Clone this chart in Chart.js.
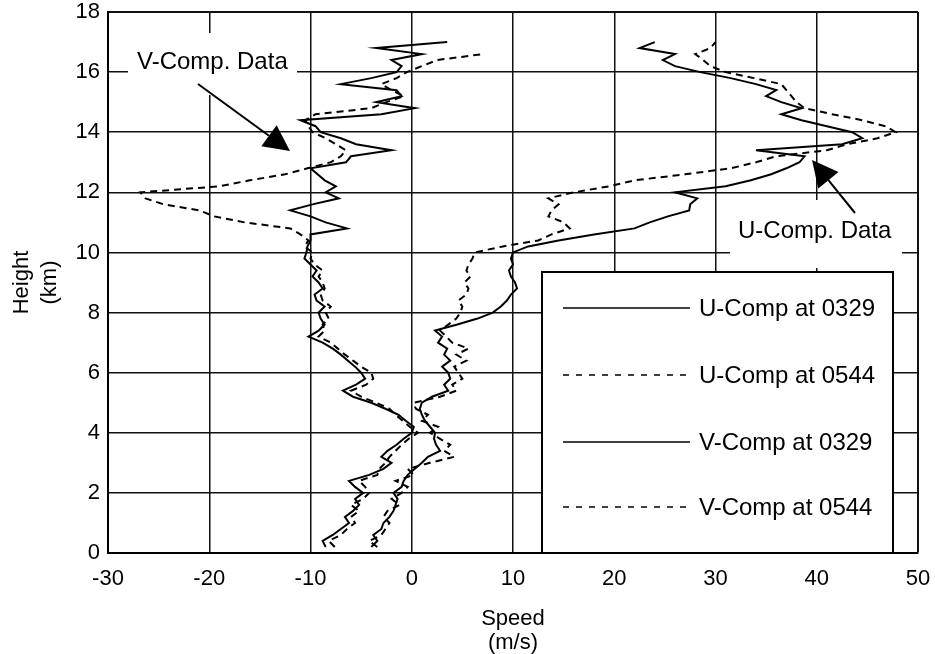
<!DOCTYPE html>
<html>
<head>
<meta charset="utf-8">
<script src="https://cdn.jsdelivr.net/npm/chart.js@4.4.1/dist/chart.umd.min.js"></script>
<style>
  html, body { margin: 0; padding: 0; background: #fff; }
  #wrap { width: 935px; height: 654px; }
</style>
</head>
<body>
<div id="wrap"><canvas id="c" width="935" height="654"></canvas></div>
<script>
// ---- Data (heights in km, speeds in m/s) ----
const heights = [0.2,0.4,0.6,0.8,1.0,1.2,1.4,1.6,1.8,2.0,2.2,2.4,2.6,2.8,3.0,3.2,3.4,3.6,3.8,4.0,
  4.2,4.4,4.6,4.8,5.0,5.2,5.4,5.6,5.8,6.0,6.2,6.4,6.6,6.8,7.0,7.2,7.4,7.6,7.8,8.0,
  8.2,8.4,8.6,8.8,9.0,9.2,9.4,9.6,9.8,10.0,10.2,10.4,10.6,10.8,11.0,11.2,11.4,11.6,11.8,12.0,
  12.2,12.4,12.6,12.8,13.0,13.2,13.4,13.6,13.8,14.0,14.2,14.4,14.6,14.8,15.0,15.2,15.4,15.6,15.8,16.0,
  16.2,16.4,16.6,16.8,17.0];

const uComp0329 = [-4.0,-3.4,-3.8,-3.0,-2.8,-2.2,-1.8,-1.6,-1.4,-1.8,
  -1.0,-0.8,-0.4,0.3,1.0,1.6,2.8,2.4,2.2,2.3,
  1.8,1.3,1.0,0.8,1.0,2.0,3.6,3.2,3.8,3.6,
  3.0,3.8,3.2,3.5,2.6,3.0,2.3,4.5,6.5,8.0,
  8.8,9.4,9.8,10.4,10.2,9.8,9.6,10.0,9.8,10.0,
  11.5,14.5,18.0,22.0,23.5,25.3,27.4,27.5,28.2,26.0,
  31.0,33.5,35.5,37.0,38.3,38.8,34.0,42.5,44.5,43.5,
  41.0,38.5,36.5,38.5,36.5,35.0,36.0,34.0,31.5,28.5,
  26.0,24.8,26.0,22.5,24.0];

const uComp0544 = [-3.4,-4.2,-3.0,-2.6,-2.2,-2.8,-2.4,-1.2,-2.0,-1.0,
  -0.4,-1.6,0.2,-0.4,1.8,4.2,3.2,3.8,2.8,1.8,
  2.6,1.0,1.6,0.4,0.2,2.8,4.4,4.0,5.0,4.6,
  4.2,5.4,4.4,5.6,4.0,3.4,2.8,3.6,4.4,4.8,
  5.0,4.6,5.4,5.6,5.2,5.8,5.4,5.6,6.0,6.2,
  9.0,12.5,13.8,15.6,15.0,13.5,13.8,14.5,13.5,16.0,
  19.5,22.0,27.0,31.5,34.0,36.0,41.0,43.0,46.0,47.8,
  46.8,44.5,41.5,38.8,38.0,37.5,37.0,36.5,33.8,31.0,
  29.5,28.8,28.0,29.5,30.0];

const vComp0329 = [-8.5,-8.8,-7.8,-7.0,-6.2,-6.6,-5.8,-5.2,-5.6,-4.8,
  -5.6,-6.2,-4.2,-2.8,-2.0,-3.0,-2.4,-1.5,-0.8,0.0,
  0.2,-0.6,-1.3,-2.6,-4.0,-5.8,-6.8,-5.5,-4.6,-5.0,
  -5.6,-6.3,-7.0,-7.8,-8.8,-10.2,-9.2,-8.6,-9.0,-9.2,
  -8.6,-9.4,-9.6,-8.8,-9.2,-9.8,-9.4,-10.0,-10.6,-10.4,
  -10.3,-10.0,-10.0,-6.4,-8.5,-10.0,-12.0,-9.8,-7.2,-8.5,
  -7.5,-8.6,-9.3,-10.0,-6.5,-6.0,-2.0,-5.5,-7.0,-9.0,
  -9.5,-11.0,-3.0,0.3,-3.5,-1.0,-1.5,-7.0,-4.0,-1.5,
  -1.0,-2.0,1.0,-3.5,3.5];

const vComp0544 = [-7.6,-8.2,-7.0,-6.4,-5.6,-6.0,-5.2,-6.0,-4.8,-4.2,
  -4.6,-5.2,-3.4,-3.2,-2.6,-2.2,-1.6,-1.0,-0.3,0.6,
  -0.2,-0.9,-1.6,-2.2,-3.5,-5.0,-6.0,-4.5,-3.8,-4.0,
  -5.0,-5.8,-6.6,-7.3,-8.0,-9.2,-8.6,-8.8,-8.2,-8.5,
  -8.0,-8.8,-9.0,-8.6,-8.8,-9.2,-8.8,-9.6,-10.0,-9.8,
  -10.6,-10.2,-11.0,-12.0,-16.5,-19.5,-21.0,-24.5,-26.3,-26.8,
  -19.0,-16.0,-12.5,-10.3,-8.0,-7.0,-6.5,-7.5,-8.5,-9.8,
  -10.2,-10.5,-9.5,-4.0,-2.5,-0.8,-2.0,-3.0,-1.5,-0.5,
  1.0,2.5,7.0,null,null];

const seriesLabels = ['U-Comp at 0329','U-Comp at 0544','V-Comp at 0329','V-Comp at 0544'];
const xTickValues = [-30,-20,-10,0,10,20,30,40,50];
const yTickValues = [0,2,4,6,8,10,12,14,16,18];

// ---- Build points ----
function profile(vals) {
  const pts = [];
  heights.forEach((h, i) => { if (vals[i] !== null && vals[i] !== undefined) pts.push({ x: vals[i], y: h }); });
  return pts;
}

const FONT = "'Liberation Sans', Arial, Helvetica, sans-serif";
const DASH = [7, 5];

function ds(label, vals, dashed) {
  return {
    label, data: profile(vals), showLine: true, pointRadius: 0, pointHoverRadius: 0,
    borderColor: '#000', borderWidth: 2, borderDash: dashed ? DASH : [],
    tension: 0, fill: false
  };
}

const overlay = {
  id: 'overlay',
  afterDraw(chart) {
    const c = chart.ctx;
    const ys = chart.scales.y;
    c.save();
    // Legend box
    const lx = 542, ly = 272, lr = 893, lb = ys.bottom;
    c.fillStyle = '#fff';
    c.fillRect(lx, ly, lr - lx, lb - ly);
    c.strokeStyle = '#000';
    c.lineWidth = 2;
    c.strokeRect(lx, ly, lr - lx, lb - ly);
    const rows = [308, 375, 442, 507];
    c.font = '24px ' + FONT;
    c.textBaseline = 'middle';
    c.textAlign = 'left';
    chart.data.datasets.forEach((d, i) => {
      c.beginPath();
      c.lineWidth = 1.5;
      c.setLineDash(d.borderDash && d.borderDash.length ? [6, 7] : []);
      c.moveTo(563, rows[i]);
      c.lineTo(690, rows[i]);
      c.stroke();
      c.setLineDash([]);
      c.fillStyle = '#000';
      c.fillText(d.label, 699, rows[i] + 1);
    });

    // Annotation: V-Comp. Data
    c.fillStyle = '#fff';
    c.fillRect(128, 33, 169, 62);
    c.fillStyle = '#000';
    c.fillText('V-Comp. Data', 137, 62);
    arrow(c, 198, 84, 290, 151);

    // Annotation: U-Comp. Data
    c.fillStyle = '#fff';
    c.fillRect(730, 200, 172, 68);
    c.fillStyle = '#000';
    c.fillText('U-Comp. Data', 738, 231);
    arrow(c, 855, 213, 812, 160);
    c.restore();
  }
};

function arrow(c, x0, y0, x1, y1) {
  const ang = Math.atan2(y1 - y0, x1 - x0);
  const len = 26, half = 13;
  const bx = x1 - len * Math.cos(ang), by = y1 - len * Math.sin(ang);
  c.beginPath();
  c.lineWidth = 2;
  c.strokeStyle = '#000';
  c.moveTo(x0, y0);
  c.lineTo(bx, by);
  c.stroke();
  c.beginPath();
  c.moveTo(x1, y1);
  c.lineTo(bx + half * Math.sin(ang), by - half * Math.cos(ang));
  c.lineTo(bx - half * Math.sin(ang), by + half * Math.cos(ang));
  c.closePath();
  c.fillStyle = '#000';
  c.fill();
}

const gridW = (ctx, edgeVals) => (ctx.tick && edgeVals.includes(ctx.tick.value)) ? 2 : 1.5;

new Chart(document.getElementById('c'), {
  type: 'scatter',
  data: {
    datasets: [
      ds(seriesLabels[0], uComp0329, false),
      ds(seriesLabels[1], uComp0544, true),
      ds(seriesLabels[2], vComp0329, false),
      ds(seriesLabels[3], vComp0544, true)
    ]
  },
  options: {
    responsive: false,
    animation: false,
    devicePixelRatio: 1,
    layout: { padding: { top: 12, right: 17, left: 0, bottom: 0 } },
    plugins: { legend: { display: false }, tooltip: { enabled: false } },
    scales: {
      x: {
        type: 'linear', min: -30, max: 50,
        afterFit(s) { s.height = 101; s.paddingLeft = 0; s.paddingRight = 0; },
        afterBuildTicks(s) { s.ticks = xTickValues.map(v => ({ value: v })); },
        grid: { color: '#111', lineWidth: ctx => gridW(ctx, [50]), drawTicks: false },
        border: { display: true, color: '#000', width: 2 },
        ticks: { color: '#000', font: { family: FONT, size: 22 }, padding: 13, maxRotation: 0 },
        title: { display: true, text: ['Speed', '(m/s)'], color: '#000',
          font: { family: FONT, size: 22, lineHeight: 1.05 }, padding: { top: 0, bottom: 0 } }
      },
      y: {
        type: 'linear', min: 0, max: 18,
        afterFit(s) { s.width = 108; s.paddingTop = 0; s.paddingBottom = 0; },
        afterBuildTicks(s) { s.ticks = yTickValues.map(v => ({ value: v })); },
        grid: { color: '#111', lineWidth: ctx => gridW(ctx, [18]), drawTicks: false },
        border: { display: true, color: '#000', width: 2 },
        ticks: { color: '#000', font: { family: FONT, size: 22 }, padding: 8 },
        title: { display: true, text: ['Height', '(km)'], color: '#000',
          font: { family: FONT, size: 22, lineHeight: 1.27 }, padding: { top: 8, bottom: 0 } }
      }
    }
  },
  plugins: [overlay]
});
</script>
</body>
</html>
